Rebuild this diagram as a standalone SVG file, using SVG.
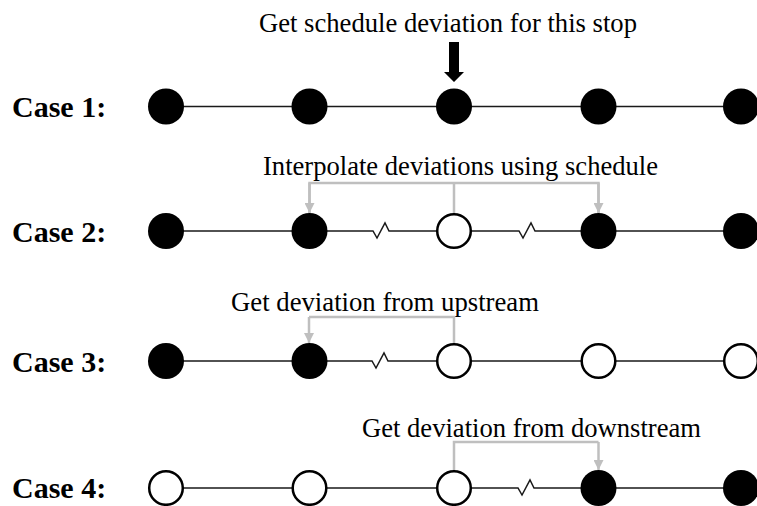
<svg xmlns="http://www.w3.org/2000/svg" width="757" height="506" viewBox="0 0 757 506">
<style>
.lbl{font-family:"Liberation Serif","Times New Roman",serif;font-size:28px;fill:#000}
.case{font-family:"Liberation Serif","Times New Roman",serif;font-size:30px;font-weight:bold;fill:#000}
.track{fill:none;stroke:#1a1a1a;stroke-width:1.5}
.gray{fill:none;stroke:#bfbfbf;stroke-width:2.5}
.garrow{fill:none;stroke:#bfbfbf;stroke-width:2.5;marker-end:url(#gh)}
.full{fill:#000}
.empty{fill:#fff;stroke:#000;stroke-width:2.5}
</style>
<defs>
<marker id="gh" markerUnits="userSpaceOnUse" markerWidth="10" markerHeight="10" refX="10" refY="5" orient="auto">
<path d="M0,0 L10,5 L0,10 z" fill="#bfbfbf"/>
</marker>
</defs>
<rect width="757" height="506" fill="#fff"/>

<g id="labels">
<text class="lbl" x="259" y="32" textLength="378" lengthAdjust="spacingAndGlyphs">Get schedule deviation for this stop</text>
<text class="lbl" x="263" y="175" textLength="395" lengthAdjust="spacingAndGlyphs">Interpolate deviations using schedule</text>
<text class="lbl" x="231" y="311" textLength="308" lengthAdjust="spacingAndGlyphs">Get deviation from upstream</text>
<text class="lbl" x="362" y="437" textLength="339" lengthAdjust="spacingAndGlyphs">Get deviation from downstream</text>
<text class="case" x="12" y="117">Case 1:</text>
<text class="case" x="12" y="242">Case 2:</text>
<text class="case" x="12" y="372">Case 3:</text>
<text class="case" x="12" y="498">Case 4:</text>
</g>

<g id="connectors">
<!-- Case 1 -->
<line class="track" x1="166" y1="106.5" x2="741" y2="106.5"/>
<polygon points="449,42 459,42 459,72 464,72 454,82 444,72 449,72" fill="#000"/>
<!-- Case 2 -->
<polyline class="track" points="166,231 373,231 377,238 385,223 389,231 519,231 523,238 531,223 535,231 741,231"/>
<polyline class="gray" points="309.5,213 309.5,183 598.5,183 598.5,213"/>
<line class="garrow" x1="309.5" y1="183" x2="309.5" y2="213"/>
<line class="garrow" x1="598.5" y1="183" x2="598.5" y2="213"/>
<line class="gray" x1="454" y1="183" x2="454" y2="213"/>
<!-- Case 3 -->
<polyline class="track" points="166,361 372,361 376,368 384,353 388,361 741,361"/>
<polyline class="gray" points="309,317 454,317 454,343"/>
<line class="garrow" x1="309" y1="317" x2="309" y2="343"/>
<!-- Case 4 -->
<polyline class="track" points="166,488 518,488 522,495 530,480 534,488 741,488"/>
<polyline class="gray" points="454,470 454,442 598.5,442"/>
<line class="garrow" x1="598.5" y1="442" x2="598.5" y2="470"/>
</g>

<g id="case1">
<circle id="c1n1" class="full" cx="166" cy="106.5" r="18"/>
<circle id="c1n2" class="full" cx="309.5" cy="106.5" r="18"/>
<circle id="c1n3" class="full" cx="454" cy="106.5" r="18"/>
<circle id="c1n4" class="full" cx="598.5" cy="106.5" r="18"/>
<circle id="c1n5" class="full" cx="741" cy="106.5" r="18"/>
</g>
<g id="case2">
<circle id="c2n1" class="full" cx="166" cy="231" r="18"/>
<circle id="c2n2" class="full" cx="309.5" cy="231" r="18"/>
<circle id="c2n3" class="empty" cx="454" cy="231" r="16.8"/>
<circle id="c2n4" class="full" cx="598.5" cy="231" r="18"/>
<circle id="c2n5" class="full" cx="741" cy="231" r="18"/>
</g>
<g id="case3">
<circle id="c3n1" class="full" cx="166" cy="361" r="18"/>
<circle id="c3n2" class="full" cx="309.5" cy="361" r="18"/>
<circle id="c3n3" class="empty" cx="454" cy="361" r="16.8"/>
<circle id="c3n4" class="empty" cx="598.5" cy="361" r="16.8"/>
<circle id="c3n5" class="empty" cx="741" cy="361" r="16.8"/>
</g>
<g id="case4">
<circle id="c4n1" class="empty" cx="166" cy="488" r="16.8"/>
<circle id="c4n2" class="empty" cx="309.5" cy="488" r="16.8"/>
<circle id="c4n3" class="empty" cx="454" cy="488" r="16.8"/>
<circle id="c4n4" class="full" cx="598.5" cy="488" r="18"/>
<circle id="c4n5" class="full" cx="741" cy="488" r="18"/>
</g>
</svg>
